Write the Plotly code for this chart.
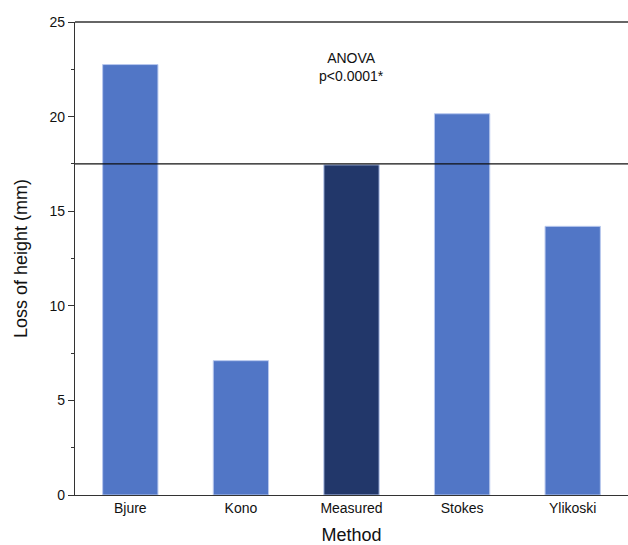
import plotly.graph_objects as go

methods = ["Bjure", "Kono", "Measured", "Stokes", "Ylikoski"]
loss_mm = [22.75, 7.1, 17.45, 20.15, 14.2]
measured_ref = 17.5
bar_colors = ["#5176C6", "#5176C6", "#22376A", "#5176C6", "#5176C6"]

fig = go.Figure()
fig.add_trace(go.Bar(
    x=methods, y=loss_mm, width=0.5,
    marker=dict(color=bar_colors, line=dict(color="#B8C8EE", width=1)),
    showlegend=False,
))
fig.add_shape(type="line", xref="paper", x0=0, x1=1, yref="y", y0=measured_ref, y1=measured_ref,
              line=dict(color="#111111", width=1.3), layer="above")
fig.add_annotation(x=2, y=22.6, xref="x", yref="y", text="ANOVA<br>p<0.0001*",
                   showarrow=False, font=dict(size=14, color="#111111"))

fig.update_layout(
    width=628, height=545,
    margin=dict(l=75, r=0, t=22, b=50),
    plot_bgcolor="white", paper_bgcolor="white",
    font=dict(family="Liberation Sans, Arial, sans-serif", color="#111111", size=14),
    bargap=0.5,
)
fig.update_xaxes(
    title=dict(text="Method", font=dict(size=18), standoff=16),
    showline=True, linecolor="#333333", linewidth=1.3, mirror=False, automargin=False,
    ticks="", showgrid=False, range=[-0.5, 4.5], tickfont=dict(size=14),
)
fig.update_yaxes(
    title=dict(text="Loss of height (mm)", font=dict(size=18), standoff=17),
    range=[0, 25], tickvals=[0, 5, 10, 15, 20, 25], ticks="outside", ticklen=6, automargin=False,
    tickcolor="#333333", showline=True, linecolor="#333333", linewidth=1.3,
    showgrid=False, zeroline=False, tickfont=dict(size=14),
    minor=dict(tickvals=[2.5, 7.5, 12.5, 17.5, 22.5], ticks="outside", ticklen=3, tickcolor="#333333"),
)
fig.add_shape(type="line", xref="paper", x0=0, x1=1, yref="paper", y0=1, y1=1,
              line=dict(color="#333333", width=1.3))

fig.write_html("out.html", config={"displayModeBar": False},
               post_script="document.body.style.margin='0px';")
